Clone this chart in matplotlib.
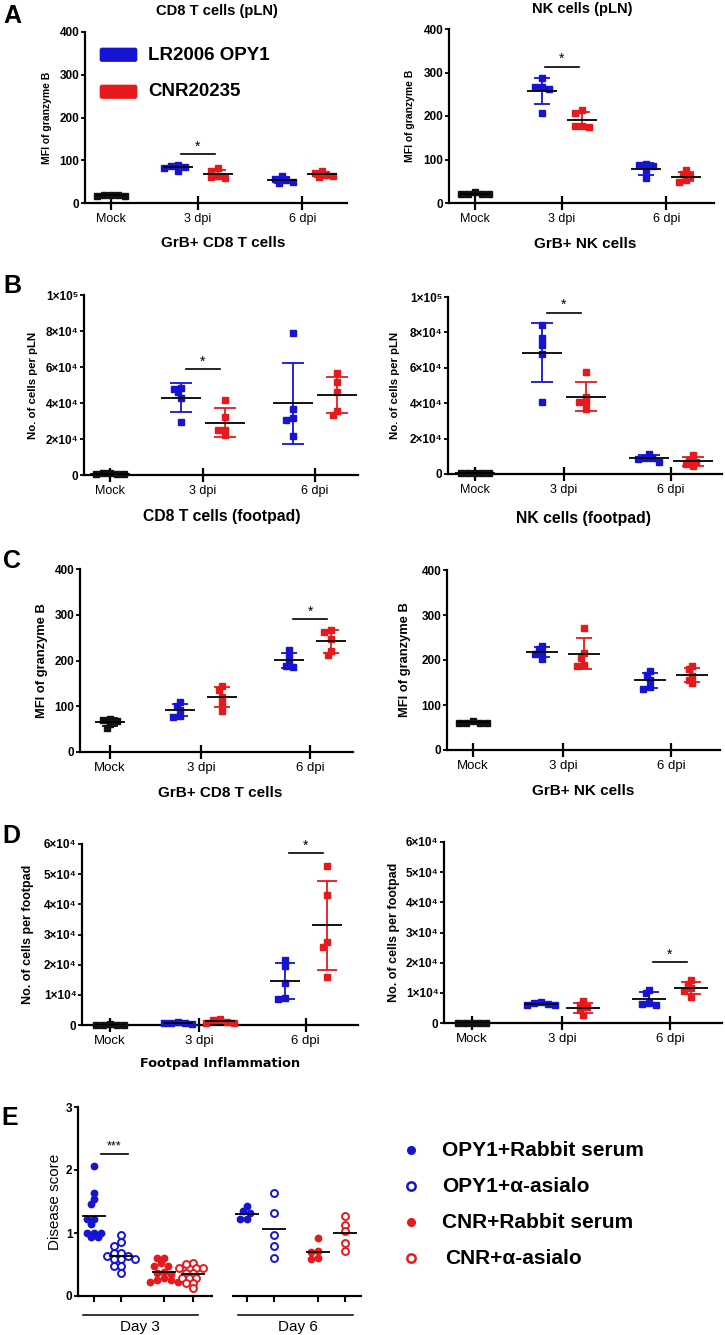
import numpy as np
import matplotlib
matplotlib.use('Agg')
import matplotlib.pyplot as plt
from matplotlib.patches import FancyBboxPatch

W, H, DPI = 725, 1335, 100
plt.rcParams['font.family'] = ['Liberation Sans', 'DejaVu Sans']

BLUE = '#1414d2'
RED = '#e8191c'
BLACK = '#111111'

CATS = ['Mock', '3 dpi', '6 dpi']
GROUP_POS = [0, 1, 2.2]
SERIES = ['LR2006 OPY1', 'CNR20235']

# ---------------- data (per panel: mock, [3 dpi, 6 dpi]) ----------------
A_CD8_MOCK = [17, 18, 19, 18, 17]
A_CD8_OPY1 = [[88, 86, 84, 82, 76], [64, 57, 54, 50, 46]]
A_CD8_CNR = [[82, 75, 62, 58, 60], [76, 70, 66, 62, 60]]

A_NK_MOCK = [26, 21, 20, 20, 21]
A_NK_OPY1 = [[288, 266, 266, 261, 206], [89, 87, 84, 75, 57]]
A_NK_CNR = [[213, 208, 177, 175, 176], [75, 66, 62, 53, 48]]

B_CD8_MOCK = [900, 700, 800, 1000, 600]
B_CD8_OPY1 = [[48500, 48000, 46000, 43000, 29500], [78700, 36700, 31500, 30600, 21700]]
B_CD8_CNR = [[41500, 32000, 25000, 25000, 22000], [56500, 51800, 45900, 35700, 33300]]

B_NK_MOCK = [700, 600, 500, 500, 600]
B_NK_OPY1 = [[84200, 76700, 72900, 67600, 40800], [11500, 9000, 9000, 8500, 7000]]
B_NK_CNR = [[57400, 40500, 40500, 43700, 36500], [10500, 8000, 7000, 5500, 4500]]

C_CD8_MOCK = [73, 71, 68, 62, 52]
C_CD8_OPY1 = [[110, 100, 92, 79, 77], [223, 212, 195, 187, 186]]
C_CD8_CNR = [[145, 135, 120, 107, 90], [266, 262, 248, 220, 212]]

C_NK_MOCK = [64, 61, 60, 60, 61]
C_NK_OPY1 = [[232, 224, 216, 213, 203], [176, 167, 155, 140, 136]]
C_NK_CNR = [[272, 215, 205, 190, 186], [187, 179, 164, 156, 148]]

D_CD8_MOCK = [150, 100, 200, 120, 100]
D_CD8_OPY1 = [[1100, 700, 500, 400, 500], [21500, 19500, 14000, 9000, 8500]]
D_CD8_CNR = [[2000, 1500, 1000, 800, 700], [52800, 43100, 27600, 26000, 15800]]

D_NK_MOCK = [150, 100, 120, 100, 130]
D_NK_OPY1 = [[7000, 6600, 6300, 6000, 5900], [11000, 9800, 6600, 6200, 6000]]
D_NK_CNR = [[7200, 6000, 5300, 4300, 2800], [14300, 12900, 11500, 10600, 8700]]

# significance: (group index, bar height)
A_CD8_SIG = (1, 114)
A_NK_SIG = (1, 313)
B_CD8_SIG = (1, 58700)
B_NK_SIG = (1, 91000)
C_CD8_SIG = (2, 290)
C_NK_SIG = None
D_CD8_SIG = (2, 56900)
D_NK_SIG = (2, 20100)

MFI_TICKS = [0, 100, 200, 300, 400]
MFI_LABELS = ['0', '100', '200', '300', '400']
PLN_TICKS = [0, 20000, 40000, 60000, 80000, 100000]
PLN_LABELS = ['0', '2×10⁴', '4×10⁴', '6×10⁴', '8×10⁴', '1×10⁵']
FP_TICKS = [0, 10000, 20000, 30000, 40000, 50000, 60000]
FP_LABELS = ['0', '1×10⁴', '2×10⁴', '3×10⁴', '4×10⁴', '5×10⁴', '6×10⁴']

# Panel E
E_LABELS = ['OPY1+Rabbit serum', 'OPY1+α-asialo', 'CNR+Rabbit serum', 'CNR+α-asialo']
E_D3_OPY1_RS = [2.07, 1.63, 1.54, 1.46, 1.23, 1.23, 1.15, 1.0, 1.0, 1.0, 0.93, 0.93]
E_D3_OPY1_AS = [0.97, 0.85, 0.8, 0.69, 0.69, 0.63, 0.63, 0.58, 0.58, 0.58, 0.48, 0.48, 0.37]
E_D3_CNR_RS = [0.61, 0.61, 0.53, 0.48, 0.48, 0.38, 0.36, 0.35, 0.29, 0.26, 0.26, 0.22, 0.22]
E_D3_CNR_AS = [0.52, 0.51, 0.45, 0.45, 0.45, 0.37, 0.37, 0.29, 0.29, 0.29, 0.21, 0.21, 0.12]
E_D6_OPY1_RS = [1.43, 1.35, 1.32, 1.22, 1.22]
E_D6_OPY1_AS = [1.64, 1.31, 0.97, 0.79, 0.61]
E_D6_CNR_RS = [0.92, 0.72, 0.7, 0.6, 0.58]
E_D6_CNR_AS = [1.27, 1.13, 1.03, 0.84, 0.72]
E_POS = [0, 1, 2.6, 3.65, 5.65, 6.65, 8.3, 9.3]
E_DAYS = ['Day 3', 'Day 6']
E_SIG_Y = 2.26

fig = plt.figure(figsize=(W / DPI, H / DPI), dpi=DPI)
ov = fig.add_axes([0, 0, 1, 1])
ov.set_xlim(0, W)
ov.set_ylim(H, 0)
ov.set_axis_off()


def px_rect(left, top, right, bottom):
    return [left / W, 1 - bottom / H, (right - left) / W, (bottom - top) / H]


def T(x, y, s, size, weight='bold', ha='center', va='center', family=None, **kw):
    ov.text(x, y, s, fontsize=size, fontweight=weight, ha=ha, va=va,
            family=family or ['Liberation Sans', 'DejaVu Sans'], **kw)


def swarm(ax, x0, vals, spacing, radius):
    vals = np.asarray(vals, float)
    disp = ax.transData.transform(np.column_stack([np.full(len(vals), x0), vals]))
    ys = disp[:, 1]
    unit = ax.transData.transform((1, 0))[0] - ax.transData.transform((0, 0))[0]
    placed = []
    offs = np.zeros(len(vals))
    cands = [0.0]
    for k in range(1, 20):
        cands += [-0.5 * k * spacing, 0.5 * k * spacing]
    for i in np.argsort(-vals, kind='stable'):
        for c in cands:
            if all((c - px) ** 2 + (ys[i] - py) ** 2 >= radius ** 2 for px, py in placed):
                break
        placed.append((c, ys[i]))
        offs[i] = c / unit
    return offs


def dot_panel(box, ticks_px, mock, opy, cnr, ylim, yticks, ylabels, ylabel,
              ylabel_px, ylabel_size, sig, xt_size=9, mean_half=15, cap_half=8, off_px=20):
    left, right, top, bottom = box
    ax = fig.add_axes(px_rect(left, top, right, bottom))
    m_px, d3_px = ticks_px
    unit = d3_px - m_px
    ax.set_xlim((left - m_px) / unit, (right - m_px) / unit)
    ax.set_ylim(*ylim)
    ax.patch.set_alpha(0)
    for s in ['top', 'right']:
        ax.spines[s].set_visible(False)
    for s in ['left', 'bottom']:
        ax.spines[s].set_linewidth(1.6)
    ax.set_xticks(GROUP_POS)
    ax.set_xticklabels(CATS)
    ax.set_yticks(yticks)
    ax.set_yticklabels(ylabels)
    ax.tick_params(axis='x', direction='inout', length=10, width=1.6, labelsize=xt_size, pad=2)
    ax.tick_params(axis='y', direction='out', length=3, width=1.3, labelsize=8.5, pad=1)
    for lab in ax.get_yticklabels():
        lab.set_fontweight('bold')
    ax.set_ylabel(ylabel, fontsize=ylabel_size, fontweight='bold', va='center')
    ax.yaxis.set_label_coords((ylabel_px - left) / (right - left), 0.5)

    off = off_px / unit
    groups = [(GROUP_POS[0], mock, BLACK)]
    for i in range(2):
        groups.append((GROUP_POS[i + 1] - off, opy[i], BLUE))
        groups.append((GROUP_POS[i + 1] + off, cnr[i], RED))
    for x, vals, c in groups:
        vals = np.asarray(vals, float)
        mu, sd = vals.mean(), vals.std(ddof=1)
        ax.errorbar(x, mu, yerr=sd, fmt='none', ecolor=c, elinewidth=1.3,
                    capsize=cap_half * 72 / DPI, capthick=1.3, zorder=2)
        ax.plot(x + swarm(ax, x, vals, 7.0, 5.0), vals, 's', ms=3.8, color=c, mec=c,
                zorder=3, clip_on=False)
        ax.hlines(mu, x - mean_half / unit, x + mean_half / unit, color='black', lw=1.3, zorder=4)
    if sig is not None:
        gi, ys = sig
        xc = GROUP_POS[gi]
        ax.plot([xc - 17 / unit, xc + 17 / unit], [ys, ys], color='black', lw=1.2, clip_on=False)
        ax.annotate('*', (xc, ys), xytext=(0, 0.5), textcoords='offset points',
                    ha='center', va='bottom', fontsize=10)
    return ax


# ---------------- Row A ----------------
dot_panel((85, 347, 32, 203), (111, 198), A_CD8_MOCK, A_CD8_OPY1, A_CD8_CNR, (0, 400),
          MFI_TICKS, MFI_LABELS, 'MFI of granzyme B', 47, 7.5, A_CD8_SIG)
dot_panel((449, 714, 29, 203), (475, 562), A_NK_MOCK, A_NK_OPY1, A_NK_CNR, (0, 400),
          MFI_TICKS, MFI_LABELS, 'MFI of granzyme B', 410, 7.5, A_NK_SIG)
# ---------------- Row B ----------------
dot_panel((84, 358, 295, 475), (110, 203), B_CD8_MOCK, B_CD8_OPY1, B_CD8_CNR, (0, 100000),
          PLN_TICKS, PLN_LABELS, 'No. of cells per pLN', 33, 8.2, B_CD8_SIG,
          mean_half=20, cap_half=11, off_px=22)
dot_panel((448, 722, 297, 474), (475, 564), B_NK_MOCK, B_NK_OPY1, B_NK_CNR, (0, 100000),
          PLN_TICKS, PLN_LABELS, 'No. of cells per pLN', 395, 8.2, B_NK_SIG,
          mean_half=20, cap_half=11, off_px=22)
# ---------------- Row C ----------------
dot_panel((80, 353, 569, 752), (110, 201), C_CD8_MOCK, C_CD8_OPY1, C_CD8_CNR, (0, 400),
          MFI_TICKS, MFI_LABELS, 'MFI of granzyme B', 42, 9.3, C_CD8_SIG,
          xt_size=9.5, mean_half=15, cap_half=8, off_px=21)
dot_panel((447, 720, 570, 750), (473, 563), C_NK_MOCK, C_NK_OPY1, C_NK_CNR, (0, 400),
          MFI_TICKS, MFI_LABELS, 'MFI of granzyme B', 405, 9.3, C_NK_SIG,
          xt_size=9.5, mean_half=16, cap_half=8, off_px=21)
# ---------------- Row D ----------------
dot_panel((82, 358, 844, 1025), (110, 199), D_CD8_MOCK, D_CD8_OPY1, D_CD8_CNR, (0, 60000),
          FP_TICKS, FP_LABELS, 'No. of cells per footpad', 28, 9, D_CD8_SIG,
          xt_size=9.5, mean_half=15, cap_half=10, off_px=21)
dot_panel((444, 722, 842, 1023), (472, 562), D_NK_MOCK, D_NK_OPY1, D_NK_CNR, (0, 60000),
          FP_TICKS, FP_LABELS, 'No. of cells per footpad', 394, 9, D_NK_SIG,
          xt_size=9.5, mean_half=17, cap_half=10, off_px=21)

# ---------------- Panel E ----------------
eL, eR, eT, eB = 78, 362, 1107, 1296
eu = 27.0
axE = fig.add_axes(px_rect(eL, eT, eR, eB))
axE.patch.set_alpha(0)
axE.set_xlim((eL - 94) / eu, (eR - 94) / eu)
axE.set_ylim(0, 3)
for s in ['top', 'right', 'bottom']:
    axE.spines[s].set_visible(False)
axE.spines['left'].set_linewidth(1.6)
axE.set_yticks([0, 1, 2, 3])
axE.set_yticklabels(['0', '1', '2', '3'])
axE.tick_params(axis='y', direction='out', length=3, width=1.3, labelsize=8.5, pad=1)
for lab in axE.get_yticklabels():
    lab.set_fontweight('bold')
axE.set_xticks(E_POS)
axE.set_xticklabels([])
axE.tick_params(axis='x', direction='out', length=4.5, width=1.5)
axE.set_ylabel('Disease score', fontsize=11, va='center')
axE.yaxis.set_label_coords((55 - eL) / (eR - eL), 0.5)
axE.plot([(eL - 94) / eu, (213 - 94) / eu], [0, 0], color='black', lw=1.6, clip_on=False,
         solid_capstyle='butt')
axE.plot([(232 - 94) / eu, (eR - 94) / eu], [0, 0], color='black', lw=1.6, clip_on=False,
         solid_capstyle='butt')

e_sets = [E_D3_OPY1_RS, E_D3_OPY1_AS, E_D3_CNR_RS, E_D3_CNR_AS,
          E_D6_OPY1_RS, E_D6_OPY1_AS, E_D6_CNR_RS, E_D6_CNR_AS]
e_cols = [BLUE, BLUE, RED, RED] * 2
e_fill = [True, False, True, False] * 2
for x, vals, c, f in zip(E_POS, e_sets, e_cols, e_fill):
    vals = np.asarray(vals, float)
    xs = x + swarm(axE, x, vals, 7.0, 5.6)
    if f:
        axE.plot(xs, vals, 'o', ms=4.6, color=c, mec=c, zorder=3, clip_on=False)
    else:
        axE.plot(xs, vals, 'o', ms=5.0, mfc='white', mec=c, mew=1.4, zorder=3, clip_on=False)
    axE.hlines(vals.mean(), x - 12 / eu, x + 12 / eu, color='black', lw=1.3, zorder=4)
axE.plot([(101 - 94) / eu, (128 - 94) / eu], [E_SIG_Y, E_SIG_Y], color='black', lw=1.2)
axE.annotate('***', ((114.5 - 94) / eu, E_SIG_Y), xytext=(0, 0.5), textcoords='offset points',
             ha='center', va='bottom', fontsize=9)

# Day group lines
ov.plot([83, 198], [1315, 1315], color='black', lw=1.1)
ov.plot([238, 353], [1315, 1315], color='black', lw=1.1)
T(140, 1327, E_DAYS[0], 11, weight='normal')
T(298, 1327, E_DAYS[1], 11, weight='normal')

# E legend
leg_y = [1150, 1186, 1222, 1258]
for y, lab, c, f in zip(leg_y, E_LABELS, e_cols[:4], e_fill[:4]):
    if f:
        ov.plot([411], [y], 'o', ms=5.5, color=c, mec=c)
    else:
        ov.plot([411], [y], 'o', ms=6.0, mfc='white', mec=c, mew=1.8)
    T(442 if f or c == BLUE else 445, y, lab, 15, ha='left')

# A legend
for (y0, c), lab in zip([(48, BLUE), (85, RED)], SERIES):
    ov.add_patch(FancyBboxPatch((100, y0), 37, 13.5, boxstyle='round,pad=0,rounding_size=2',
                                fc=c, ec=c, lw=0.5))
    T(148, y0 + 7, lab, 13.5, ha='left')

# titles / labels
T(217, 11, 'CD8 T cells (pLN)', 10.6)
T(582, 9, 'NK cells (pLN)', 10.5)
T(223, 243, 'GrB+ CD8 T cells', 11)
T(585, 244, 'GrB+ NK cells', 11)
T(222, 517, 'CD8 T cells (footpad)', 11.3)
T(584, 518, 'NK cells (footpad)', 11.3)
T(220, 793, 'GrB+ CD8 T cells', 11)
T(583, 791, 'GrB+ NK cells', 11)
T(220, 1064, 'Footpad Inflammation', 9.3, family=['DejaVu Sans'])

# panel letters
for letter, x, y in [('A', 12, 16), ('B', 12, 286), ('C', 12, 561), ('D', 11, 836), ('E', 10, 1118)]:
    T(x, y, letter, 18)

fig.savefig('out.png', dpi=DPI)
